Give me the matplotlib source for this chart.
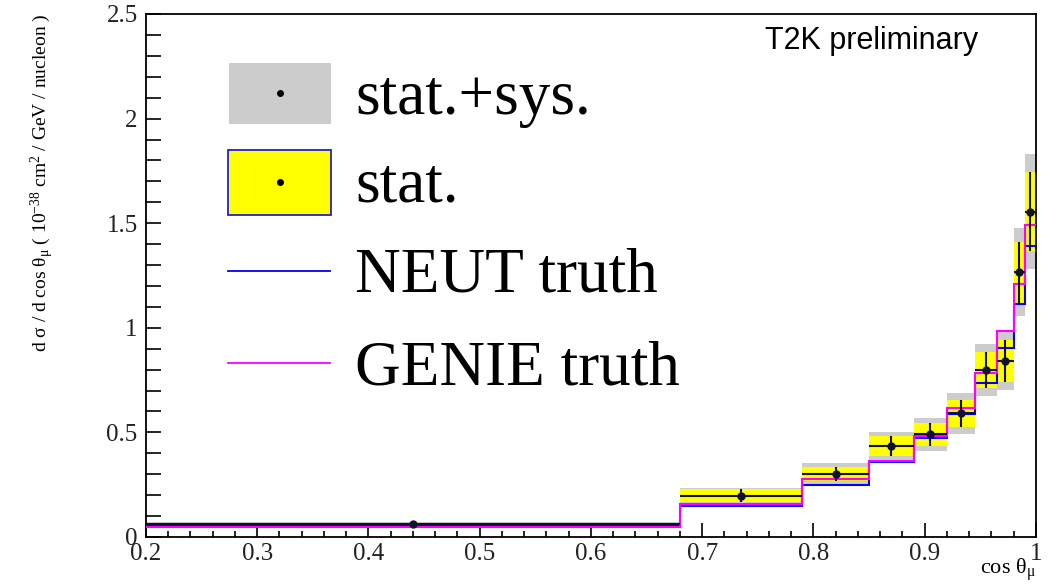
import numpy as np
import matplotlib
matplotlib.use('Agg')
import matplotlib.pyplot as plt
from matplotlib.patches import Rectangle
from matplotlib.ticker import MultipleLocator, FuncFormatter

# bin edges in cos theta_mu and measured / predicted cross sections
bin_edges = [0.2, 0.68, 0.79, 0.85, 0.89, 0.92, 0.945, 0.965, 0.98, 0.99, 1.0]
xsec = [0.061, 0.198, 0.302, 0.436, 0.491, 0.591, 0.798, 0.843, 1.265, 1.555]
err_stat = [0.008, 0.030, 0.034, 0.048, 0.055, 0.065, 0.088, 0.100, 0.147, 0.190]
err_total = [0.011, 0.035, 0.050, 0.066, 0.080, 0.097, 0.125, 0.140, 0.210, 0.275]
neut_truth = [0.052, 0.148, 0.248, 0.358, 0.475, 0.587, 0.735, 0.902, 1.114, 1.391]
genie_truth = [0.046, 0.157, 0.278, 0.364, 0.484, 0.617, 0.782, 0.985, 1.209, 1.491]

legend_labels = ['stat.+sys.', 'stat.', 'NEUT truth', 'GENIE truth']

SERIF = ['Liberation Serif', 'DejaVu Serif']
plt.rcParams['font.family'] = SERIF
plt.rcParams['mathtext.fontset'] = 'custom'
plt.rcParams['mathtext.rm'] = 'Liberation Serif'
plt.rcParams['mathtext.it'] = 'Liberation Serif:italic'

GREY = '#cccccc'
YELLOW = '#ffff00'


def format_axes(ax):
    ax.set_xlim(0.2, 1.0)
    ax.set_ylim(0, 2.5)
    for s in ax.spines.values():
        s.set_linewidth(1.3)
    ax.xaxis.set_major_locator(MultipleLocator(0.1))
    ax.xaxis.set_minor_locator(MultipleLocator(0.02))
    ax.yaxis.set_major_locator(MultipleLocator(0.5))
    ax.yaxis.set_minor_locator(MultipleLocator(0.1))
    fmt = FuncFormatter(lambda v, p: '%g' % round(v, 3))
    ax.xaxis.set_major_formatter(fmt)
    ax.yaxis.set_major_formatter(fmt)
    ax.tick_params(which='both', direction='in', top=False, right=False,
                   width=1.2, labelsize=18, labelcolor='#222222')
    ax.tick_params(axis='y', which='both', length=10.5, pad=6)
    ax.tick_params(axis='x', which='major', length=10, pad=4)
    ax.tick_params(axis='x', which='minor', length=4.5)

    ax.set_xlabel('cos θ$_{\\mathrm{μ}}$', fontsize=16, loc='right')
    ax.xaxis.set_label_coords(1.0, -0.0698)
    ax.xaxis.label.set(ha='right', va='baseline')
    ax.set_ylabel('d σ / d cos θ$_{\\mathrm{μ}}$ ( 10$^{-38}$ cm$^{2}$ / GeV / nucleon )',
                  fontsize=14, loc='top')
    ax.yaxis.set_label_coords(-0.116, 1.0)
    ax.yaxis.label.set(rotation_mode='anchor', ha='right', va='center')


def draw_legend(ax):
    tr = ax.transAxes
    ax.add_patch(Rectangle((0.0933, 0.790), 0.1146, 0.117, transform=tr,
                           facecolor=GREY, edgecolor='none', zorder=6))
    ax.add_patch(Rectangle((0.0922, 0.6157), 0.1157, 0.1243, transform=tr,
                           facecolor=YELLOW, edgecolor='#2222cc', lw=1.3, zorder=6))
    ax.plot([0.1506], [0.848], 'o', color='black', ms=4, transform=tr, zorder=7)
    ax.plot([0.1506], [0.678], 'o', color='black', ms=4, transform=tr, zorder=7)
    ax.plot([0.0922, 0.2068], [0.5086, 0.5086], color='blue', lw=1.3, transform=tr, zorder=7)
    ax.plot([0.0922, 0.2068], [0.3327, 0.3327], color='magenta', lw=1.3, transform=tr, zorder=7)
    for label, y in zip(legend_labels, [0.8088, 0.6424, 0.4685, 0.2925]):
        ax.text(0.2348, y, label, transform=tr, fontsize=45.5, ha='left',
                va='baseline', color='black', zorder=7)


fig = plt.figure(figsize=(10.53, 5.84), dpi=100)
ax = fig.add_axes([0.13865, 0.08048, 0.84520, 0.89555])

edges = np.array(bin_edges)
widths = np.diff(edges)
centers = edges[:-1] + widths / 2
xsec = np.array(xsec)
err_stat = np.array(err_stat)
err_total = np.array(err_total)

ax.bar(edges[:-1], 2 * err_total, width=widths, bottom=xsec - err_total,
       align='edge', color=GREY, linewidth=0, zorder=1)
ax.bar(edges[:-1], 2 * err_stat, width=widths, bottom=xsec - err_stat,
       align='edge', color=YELLOW, linewidth=0, zorder=2)
ax.stairs(neut_truth, edges, baseline=None, color='blue', lw=1.5, zorder=3)
ax.stairs(genie_truth, edges, baseline=None, color='magenta', lw=1.5, zorder=4)
ax.errorbar(centers, xsec, xerr=widths / 2, yerr=err_stat, fmt='o', color='#101030',
            ms=5, elinewidth=1.5, capsize=0, zorder=5)

format_axes(ax)
draw_legend(ax)

ax.text(0.8157, 0.9325, 'T2K preliminary', transform=ax.transAxes, fontsize=22,
        family=['Liberation Sans', 'DejaVu Sans'], ha='center', va='baseline')

fig.savefig('out.png', dpi=100)
